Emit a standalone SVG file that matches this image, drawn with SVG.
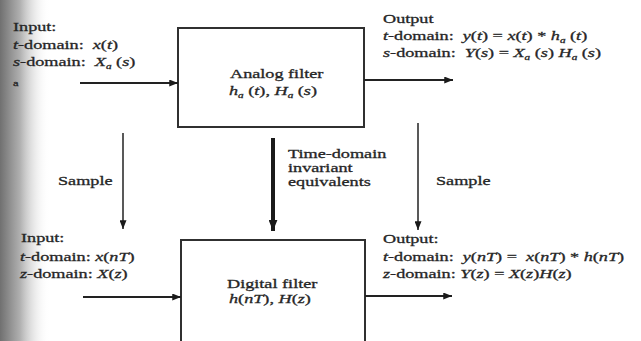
<svg xmlns="http://www.w3.org/2000/svg" width="641" height="341" viewBox="0 0 641 341">
<style>
  text { font-family: "Liberation Serif", "Times New Roman", serif; font-size: 13px; fill: #262626; stroke: #262626; stroke-width: 0.3; }
  .i { font-style: italic; }
  .sub { font-size: 8px; font-style: italic; }
  .box { fill: #ffffff; stroke: #303030; stroke-width: 2; }
  .ln { stroke: #222222; fill: none; stroke-width: 2; }
  .thin { stroke: #222222; fill: none; stroke-width: 1.5; }
  .thick { stroke: #1a1a1a; fill: none; stroke-width: 4; }
</style>
<defs>
  <marker id="ah" viewBox="0 0 10 8" refX="10" refY="4" markerWidth="10" markerHeight="7" markerUnits="userSpaceOnUse" orient="auto">
    <path d="M0,0 L10,4 L0,8 Z" fill="#1a1a1a"/>
  </marker>
  <marker id="ahb" viewBox="0 0 10 8" refX="10" refY="4" markerWidth="11" markerHeight="9" markerUnits="userSpaceOnUse" orient="auto">
    <path d="M0,0 L10,4 L0,8 Z" fill="#1a1a1a"/>
  </marker>
  <linearGradient id="edge" x1="0" y1="0" x2="1" y2="0">
    <stop offset="0" stop-color="#707070"/>
    <stop offset="0.4" stop-color="#b0b0b0"/>
    <stop offset="1" stop-color="#ffffff" stop-opacity="0"/>
  </linearGradient>
</defs>
<rect x="0" y="0" width="641" height="341" fill="#ffffff"/>
<rect x="0" y="0" width="50" height="341" fill="url(#edge)"/>

<g id="analog-filter">
  <rect class="box" x="178" y="28" width="186" height="99"/>
  <text transform="translate(230,78) scale(1.4,1)">Analog filter</text>
  <text transform="translate(229,95) scale(1.4,1)"><tspan class="i">h</tspan><tspan class="sub" dy="3">a</tspan><tspan dy="-3"> (</tspan><tspan class="i">t</tspan>), <tspan class="i">H</tspan><tspan class="sub" dy="3">a</tspan><tspan dy="-3"> (</tspan><tspan class="i">s</tspan>)</text>
</g>

<g id="digital-filter">
  <rect class="box" x="181" y="240" width="184" height="110"/>
  <text transform="translate(227,288) scale(1.4,1)">Digital filter</text>
  <text transform="translate(229,303) scale(1.4,1)"><tspan class="i">h</tspan>(<tspan class="i">nT</tspan>), <tspan class="i">H</tspan>(<tspan class="i">z</tspan>)</text>
</g>

<g id="analog-input">
  <text transform="translate(13,31) scale(1.4,1)">Input:</text>
  <text transform="translate(13,49) scale(1.4,1)"><tspan class="i">t</tspan>-domain:&#160; <tspan class="i">x</tspan>(<tspan class="i">t</tspan>)</text>
  <text transform="translate(13,66) scale(1.4,1)"><tspan class="i">s</tspan>-domain:&#160; <tspan class="i">X</tspan><tspan class="sub" dy="3">a</tspan><tspan dy="-3"> (</tspan><tspan class="i">s</tspan>)</text>
  <text transform="translate(13,86) scale(1.4,1)" style="font-size:9px">a</text>
</g>

<g id="analog-output">
  <text transform="translate(383,23) scale(1.4,1)">Output</text>
  <text transform="translate(383,40) scale(1.4,1)"><tspan class="i">t</tspan>-domain:&#160; <tspan class="i">y</tspan>(<tspan class="i">t</tspan>) = <tspan class="i">x</tspan>(<tspan class="i">t</tspan>) * <tspan class="i">h</tspan><tspan class="sub" dy="3">a</tspan><tspan dy="-3"> (</tspan><tspan class="i">t</tspan>)</text>
  <text transform="translate(383,57) scale(1.4,1)"><tspan class="i">s</tspan>-domain:&#160; <tspan class="i">Y</tspan>(<tspan class="i">s</tspan>) = <tspan class="i">X</tspan><tspan class="sub" dy="3">a</tspan><tspan dy="-3"> (</tspan><tspan class="i">s</tspan>) <tspan class="i">H</tspan><tspan class="sub" dy="3">a</tspan><tspan dy="-3"> (</tspan><tspan class="i">s</tspan>)</text>
</g>

<g id="digital-input">
  <text transform="translate(21,242) scale(1.4,1)">Input:</text>
  <text transform="translate(20,261) scale(1.4,1)"><tspan class="i">t</tspan>-domain: <tspan class="i">x</tspan>(<tspan class="i">nT</tspan>)</text>
  <text transform="translate(20,278) scale(1.4,1)"><tspan class="i">z</tspan>-domain: <tspan class="i">X</tspan>(<tspan class="i">z</tspan>)</text>
</g>

<g id="digital-output">
  <text transform="translate(383,243) scale(1.4,1)">Output:</text>
  <text transform="translate(383,261) scale(1.4,1)"><tspan class="i">t</tspan>-domain:&#160; <tspan class="i">y</tspan>(<tspan class="i">nT</tspan>) =&#160; <tspan class="i">x</tspan>(<tspan class="i">nT</tspan>) * <tspan class="i">h</tspan>(<tspan class="i">nT</tspan>)</text>
  <text transform="translate(383,278) scale(1.4,1)"><tspan class="i">z</tspan>-domain: <tspan class="i">Y</tspan>(<tspan class="i">z</tspan>) = <tspan class="i">X</tspan>(<tspan class="i">z</tspan>)<tspan class="i">H</tspan>(<tspan class="i">z</tspan>)</text>
</g>

<g id="labels">
  <text transform="translate(58,185) scale(1.4,1)">Sample</text>
  <text transform="translate(436,185) scale(1.4,1)">Sample</text>
  <text transform="translate(288,158) scale(1.4,1)">Time-domain</text>
  <text transform="translate(288,172) scale(1.4,1)">invariant</text>
  <text transform="translate(288,186) scale(1.4,1)">equivalents</text>
</g>

<g id="connectors">
  <line class="ln" x1="80" y1="83" x2="178" y2="83" marker-end="url(#ah)"/>
  <line class="ln" x1="364" y1="80" x2="453" y2="80" marker-end="url(#ah)"/>
  <line class="ln" x1="83" y1="297" x2="181" y2="297" marker-end="url(#ah)"/>
  <line class="ln" x1="365" y1="296" x2="452" y2="296" marker-end="url(#ah)"/>
  <line class="thin" x1="123" y1="133" x2="123" y2="229" marker-end="url(#ah)"/>
  <line class="thick" x1="273" y1="138" x2="273" y2="231" marker-end="url(#ahb)"/>
  <line class="thin" x1="418" y1="123" x2="418" y2="230" marker-end="url(#ah)"/>
</g>
</svg>
